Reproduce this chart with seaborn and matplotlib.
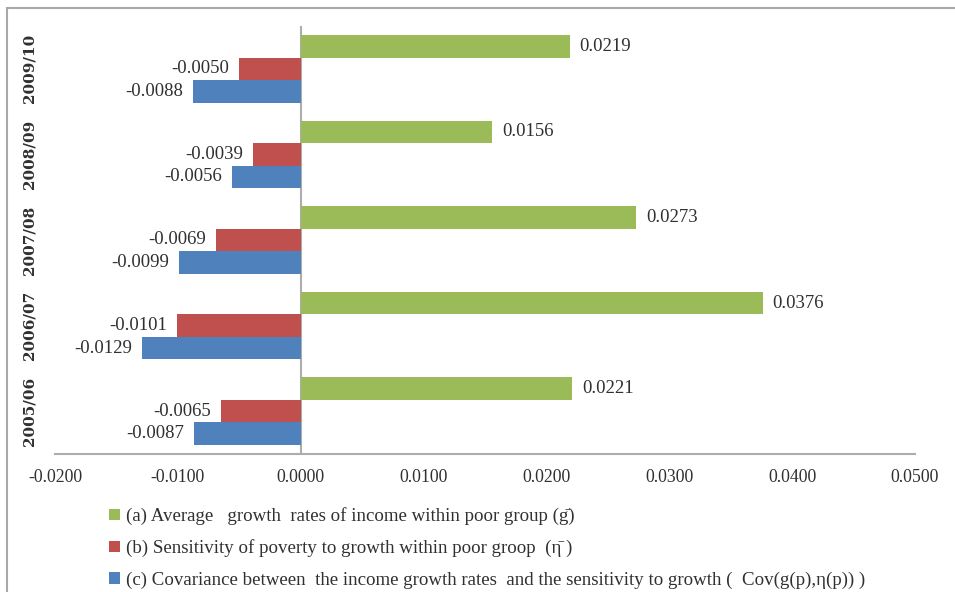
import matplotlib
matplotlib.use("Agg")
import matplotlib.pyplot as plt
from matplotlib.patches import Rectangle, Patch
import seaborn as sns
import pandas as pd

# Survey periods, listed top to bottom as drawn
periods = ["2009/10", "2008/09", "2007/08", "2006/07", "2005/06"]

# Components of the growth decomposition
series_names = [
    "(a) Average   growth  rates of income within poor group (g\u0304)",
    "(b) Sensitivity of poverty to growth within poor groop  (\u03b7\u0304 )",
    "(c) Covariance between  the income growth rates  and the sensitivity to growth (  Cov(g(p),\u03b7(p)) )",
]
avg_growth = [0.0219, 0.0156, 0.0273, 0.0376, 0.0221]
sensitivity = [-0.0050, -0.0039, -0.0069, -0.0101, -0.0065]
covariance = [-0.0088, -0.0056, -0.0099, -0.0129, -0.0087]

x_ticks = [-0.02, -0.01, 0.0, 0.01, 0.02, 0.03, 0.04, 0.05]
colors = ["#9BBB59", "#C0504D", "#4F81BD"]

rows = []
for name, vals in zip(series_names, [avg_growth, sensitivity, covariance]):
    for p, v in zip(periods, vals):
        rows.append({"period": p, "series": name, "value": v})
df = pd.DataFrame(rows)

sns.set_theme(style="white")
plt.rcParams["font.family"] = ["Liberation Serif", "DejaVu Serif"]

fig = plt.figure(figsize=(9.55, 5.92), dpi=100)
ax = fig.add_axes([55 / 955, 1 - 454 / 592, 860 / 955, 428 / 592])

sns.barplot(
    data=df, y="period", x="value", hue="series", order=periods,
    hue_order=series_names, palette=colors, orient="h", width=0.79,
    saturation=1, ax=ax, legend=False, edgecolor="none", linewidth=0,
)

for cont in ax.containers:
    ax.bar_label(cont, fmt="%.4f", padding=7, fontsize=13.5,
                 color="#303030", family=["Liberation Serif", "DejaVu Serif"])

ax.set_xlim(x_ticks[0], x_ticks[-1])
ax.set_ylim(4.5, -0.5)
ax.set_xticks(x_ticks)
ax.set_xticklabels([f"{t:.4f}" for t in x_ticks], fontsize=12.8, color="#303030")
ax.set_yticks(range(len(periods)))
ax.set_yticklabels(periods, rotation=90, va="center", fontweight="bold",
                   fontsize=11, fontfamily="DejaVu Serif", color="#303030")
ax.tick_params(axis="x", length=0, pad=11)
ax.tick_params(axis="y", length=0, pad=13)
ax.set_xlabel("")
ax.set_ylabel("")
ax.grid(False)
for side in ["top", "right", "left"]:
    ax.spines[side].set_visible(False)
ax.spines["bottom"].set_color("#ADADAD")
ax.spines["bottom"].set_linewidth(1.5)
ax.axvline(0, color="#ADADAD", lw=1.5, zorder=0.5)

handles = [Patch(facecolor=c, edgecolor="none") for c in colors]
fig.legend(
    handles, series_names, loc="upper left",
    bbox_to_anchor=(100 / 955, 1 - 498 / 592), frameon=False,
    fontsize=13.6, handlelength=0.57, handleheight=0.57, handletextpad=0.3,
    labelspacing=0.74, borderpad=0, labelcolor="#303030",
)

# Outer chart frame
fig.add_artist(Rectangle((7 / 955, -0.1), 1.2, 1.1 - 8 / 592,
                         transform=fig.transFigure, fill=False,
                         edgecolor="#A8A8A8", lw=1.5))

fig.savefig("out.png", dpi=100)
